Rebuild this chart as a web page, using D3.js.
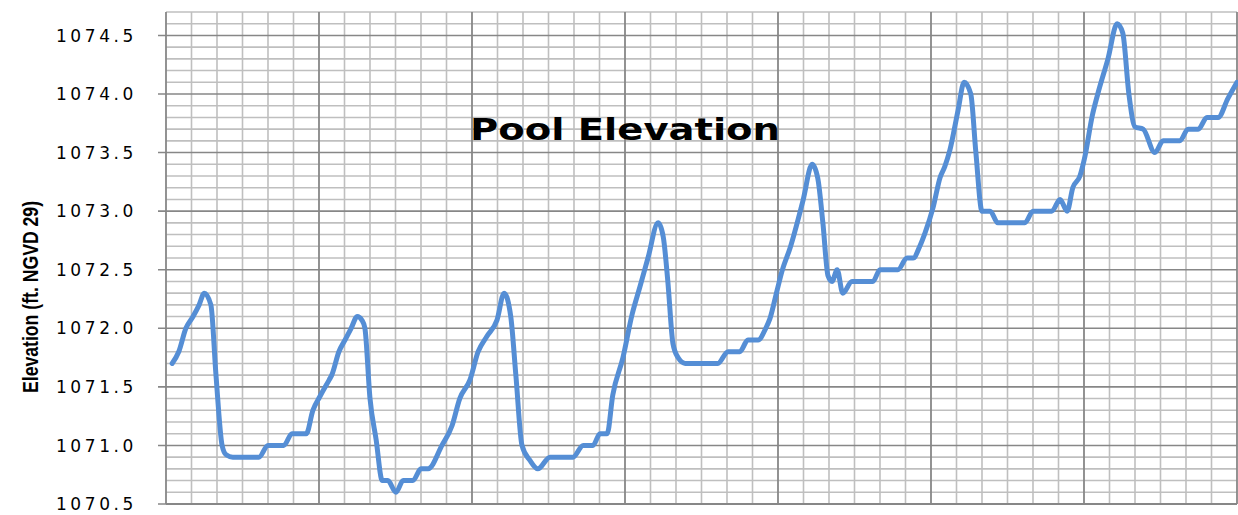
<!DOCTYPE html>
<html>
<head>
<meta charset="utf-8">
<script src="https://cdn.jsdelivr.net/npm/d3@7/dist/d3.min.js"></script>
<style>
html,body{margin:0;padding:0;background:#fff;}
svg{display:block;}
</style>
</head>
<body>
<svg id="chart" width="1238" height="515"></svg>
<script>
// ---- data ----
const title = "Pool Elevation";
const yTitle = "Elevation (ft. NGVD 29)";
const yTickLabels = [1070.5, 1071.0, 1071.5, 1072.0, 1072.5, 1073.0, 1073.5, 1074.0, 1074.5];
const days = [1.2,2.5,3.9,5.3,6.5,7.5,8.8,9.8,11.0,11.8,13.1,18.2,20.0,23.1,24.7,27.5,28.8,30.2,32.0,32.5,
  33.9,35.1,36.3,37.5,38.4,39.0,40.0,41.2,42.4,43.5,45.1,46.5,48.4,50.0,51.4,54.1,56.1,57.6,59.6,61.2,
  62.9,64.9,66.3,67.6,68.6,69.8,71.4,72.9,75.3,79.8,81.8,83.7,85.1,86.5,87.6,89.6,91.4,92.9,94.5,96.5,
  97.5,98.4,99.4,100.4,101.8,108.2,110.2,112.5,114.1,116.1,117.6,118.4,119.8,120.8,122.4,124.9,126.7,127.8,128.8,129.8,
  130.6,131.6,132.7,134.5,138.6,140.0,143.5,145.3,146.5,147.8,148.8,150.4,151.8,152.7,153.7,155.3,156.5,157.8,158.8,160.0,
  161.6,163.1,168.4,170.0,173.7,175.3,176.7,177.8,179.2,180.2,181.6,182.7,184.7,186.5,187.6,188.8,190.0,191.6,193.9,195.5,
  198.8,200.4,202.4,204.1,206.3,208.2,210.0];
const elevation = [1071.7,1071.8,1072.0,1072.1,1072.2,1072.3,1072.2,1071.6,1071.0,1070.92,1070.9,1070.9,1071.0,1071.0,1071.1,1071.1,1071.3,1071.42,1071.56,1071.6,
  1071.8,1071.9,1072.0,1072.1,1072.07,1072.0,1071.4,1071.05,1070.7,1070.7,1070.6,1070.7,1070.7,1070.8,1070.8,1071.0,1071.17,1071.4,1071.56,1071.8,
  1071.93,1072.07,1072.3,1072.1,1071.6,1071.0,1070.87,1070.8,1070.9,1070.9,1071.0,1071.0,1071.1,1071.1,1071.43,1071.75,1072.12,1072.35,1072.6,1072.9,
  1072.78,1072.4,1071.87,1071.75,1071.7,1071.7,1071.8,1071.8,1071.9,1071.9,1072.0,1072.08,1072.32,1072.49,1072.69,1073.09,1073.4,1073.28,1072.9,1072.45,
  1072.4,1072.5,1072.3,1072.4,1072.4,1072.5,1072.5,1072.6,1072.6,1072.7,1072.81,1073.03,1073.29,1073.38,1073.52,1073.86,1074.1,1074.0,1073.5,1073.0,
  1073.0,1072.9,1072.9,1073.0,1073.0,1073.1,1073.0,1073.2,1073.3,1073.47,1073.81,1074.0,1074.3,1074.6,1074.52,1074.0,1073.72,1073.7,1073.5,1073.6,
  1073.6,1073.7,1073.7,1073.8,1073.8,1073.96,1074.1];
const xDomain = [0, 210];
const yDomain = [1070.5, 1074.7];

// ---- layout ----
const svg = d3.select("#chart");
const mLeft = 166, mRight = 1237, mTop = 12, mBottom = 504;
const x = d3.scaleLinear().domain(xDomain).range([mLeft, mRight]);
const y = d3.scaleLinear().domain(yDomain).range([mBottom, mTop]);

const minorColor = "#bfbfbf", majorColor = "#878787";

// horizontal gridlines
const hMinor = d3.range(0, 43).map(i => +(yDomain[0] + i * 0.1).toFixed(1));
svg.append("g").selectAll("line").data(hMinor.filter(v => Math.round(v * 10) % 5 !== 0)).join("line")
  .attr("x1", mLeft).attr("x2", mRight).attr("y1", d => y(d)).attr("y2", d => y(d))
  .attr("stroke", minorColor).attr("stroke-width", 1.6);
// vertical gridlines
const vMinor = d3.range(0, 211, 5);
svg.append("g").selectAll("line").data(vMinor.filter(d => d % 30 !== 0)).join("line")
  .attr("x1", d => x(d)).attr("x2", d => x(d)).attr("y1", mTop).attr("y2", mBottom)
  .attr("stroke", minorColor).attr("stroke-width", 1.6);
// major horizontal
svg.append("g").selectAll("line").data(yTickLabels).join("line")
  .attr("x1", mLeft - 8).attr("x2", mRight).attr("y1", d => y(d)).attr("y2", d => y(d))
  .attr("stroke", majorColor).attr("stroke-width", 1.6);
// major vertical
svg.append("g").selectAll("line").data(d3.range(0, 211, 30)).join("line")
  .attr("x1", d => x(d)).attr("x2", d => x(d)).attr("y1", mTop).attr("y2", mBottom)
  .attr("stroke", majorColor).attr("stroke-width", 1.8);
// bottom axis line
svg.append("line").attr("x1", mLeft).attr("x2", mRight).attr("y1", mBottom).attr("y2", mBottom)
  .attr("stroke", majorColor).attr("stroke-width", 2);

// y tick labels
svg.append("g").selectAll("text").data(yTickLabels).join("text")
  .attr("x", 137).attr("y", d => y(d)).attr("dy", "0.36em")
  .attr("text-anchor", "end")
  .attr("font-family", "DejaVu Sans, Verdana, sans-serif")
  .attr("font-size", 17).attr("letter-spacing", "3.6px")
  .attr("fill", "#000")
  .text(d => d3.format(".1f")(d));

// y title
svg.append("text")
  .attr("transform", `translate(38,297) rotate(-90)`)
  .attr("text-anchor", "middle")
  .attr("font-family", "Liberation Sans Narrow, Liberation Sans, Arial Narrow, sans-serif")
  .attr("font-weight", "bold").attr("font-size", 22)
  .attr("textLength", 192).attr("lengthAdjust", "spacingAndGlyphs")
  .attr("fill", "#000")
  .text(yTitle);

// series line
const line = d3.line().x((d, i) => x(days[i])).y(d => y(d)).curve(d3.curveMonotoneX);
svg.append("path").datum(elevation)
  .attr("d", line)
  .attr("fill", "none").attr("stroke", "#558ed5").attr("stroke-width", 5)
  .attr("stroke-linecap", "round").attr("stroke-linejoin", "round");

// title
svg.append("text")
  .attr("x", 470).attr("y", 140)
  .attr("font-family", "DejaVu Sans, Verdana, sans-serif")
  .attr("font-weight", "bold").attr("font-size", 30)
  .attr("textLength", 310).attr("lengthAdjust", "spacingAndGlyphs")
  .attr("fill", "#000")
  .text(title);
</script>
</body>
</html>
